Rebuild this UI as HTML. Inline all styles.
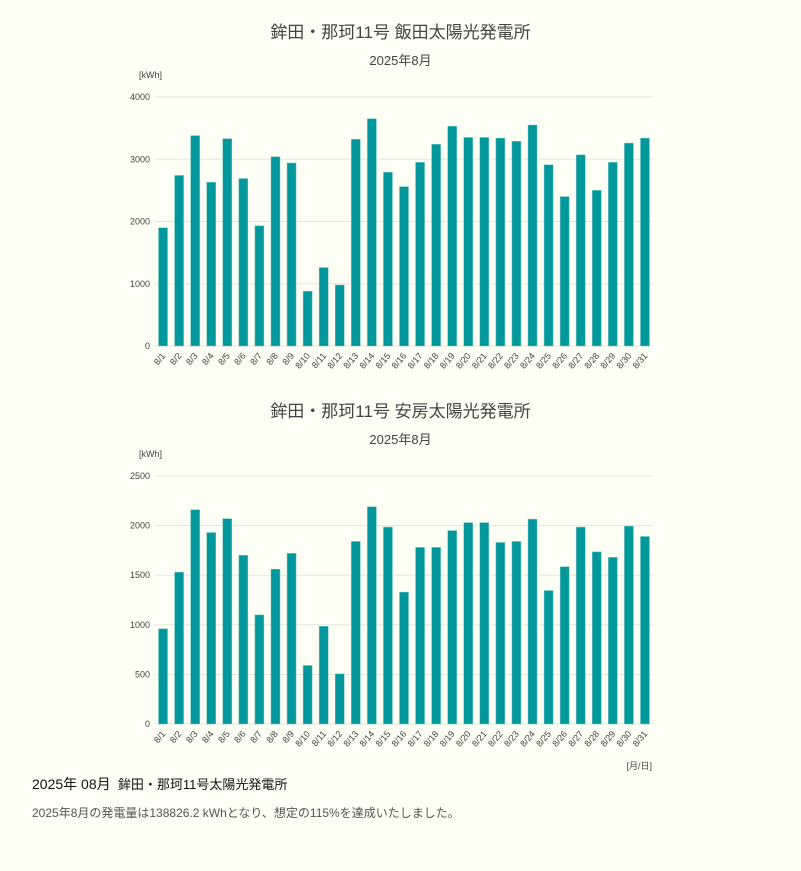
<!DOCTYPE html>
<html><head><meta charset="utf-8">
<style>
body{margin:0;background:#fdfef4;width:801px;height:871px;overflow:hidden;font-family:"Liberation Sans","Noto Sans CJK JP",sans-serif;color:#444}
.t{position:absolute;left:0;width:801px;text-align:center}
</style></head><body>
<div class="t" style="top:18px;font-size:17px;color:#444">鉾田・那珂11号 飯田太陽光発電所</div>
<div class="t" style="top:50px;font-size:13px;color:#444">2025年8月</div>
<div class="t" style="top:397px;font-size:17px;color:#444">鉾田・那珂11号 安房太陽光発電所</div>
<div class="t" style="top:429px;font-size:13px;color:#444">2025年8月</div>
<svg id="c1" style="position:absolute;left:0;top:0" width="801" height="400"></svg>
<svg id="c2" style="position:absolute;left:0;top:0" width="801" height="780"></svg>
<div style="position:absolute;left:32px;top:774px;font-size:13px;color:#111"><span style="font-size:14px">2025年 08月</span>&nbsp; 鉾田・那珂11号太陽光発電所</div>
<div style="position:absolute;left:32px;top:804px;font-size:12px;color:#555">2025年8月の発電量は138826.2 kWhとなり、想定の115%を達成いたしました。</div>
<script>
const days = Array.from({length:31},(_,i)=>'8/'+(i+1));
const values1 = [1900,2740,3380,2630,3330,2690,1930,3040,2940,880,1260,980,3320,3650,2790,2560,2950,3240,3530,3350,3350,3340,3290,3550,2910,2400,3070,2500,2950,3260,3340];
const values2 = [960,1530,2160,1930,2070,1700,1100,1560,1720,590,985,505,1840,2190,1985,1330,1780,1780,1950,2030,2030,1830,1840,2065,1345,1585,1985,1735,1680,1995,1890];
const ticks1 = [0,1000,2000,3000,4000];
const ticks2 = [0,500,1000,1500,2000,2500];
const NS='http://www.w3.org/2000/svg';
function mk(svg,tag,attrs){const e=document.createElementNS(NS,tag);for(const k in attrs)e.setAttribute(k,attrs[k]);svg.appendChild(e);return e;}
function draw(id,vals,ticks,y0,yTop,max,pre,xlabel){
  const svg=document.getElementById(id);
  const x0=155,x1=653,step=(x1-x0)/31;
  const y=v=>y0-(v/max)*(y0-yTop);
  const xc=i=>x0+step*(i+0.5);
  const u=mk(svg,'text',{x:139,y:yTop-19,'font-size':9,fill:'#444'});u.textContent='[kWh]';
  
  
  ticks.forEach(t=>{
    const l=mk(svg,'line',{x1:x0,x2:x1,y1:y(t),y2:y(t),stroke:'#e6e6df','stroke-width':1});
    
    
    const tx=mk(svg,'text',{x:150,y:y(t)+3,'font-size':9,fill:'#444','text-anchor':'end'});tx.textContent=t;
    
    
  });
  vals.forEach((v,i)=>{
    const r=mk(svg,'rect',{x:xc(i)-4.5,y:y(v),width:9,height:y0-y(v),fill:'#02979a',stroke:'#6fc9c6','stroke-width':0.5});
    
    
    const tx=mk(svg,'text',{x:0,y:0,'font-size':9,fill:'#444','text-anchor':'end',transform:`translate(${xc(i)+3},${y0+10}) rotate(-50)`});tx.textContent=days[i];
    
    
  });
  if(xlabel){const t=mk(svg,'text',{x:652,y:y0+45,'font-size':9,fill:'#444','text-anchor':'end'});t.textContent='[月/日]';
    
    }
}
draw('c1',values1,ticks1,346,97,4000,'chart1',false);
draw('c2',values2,ticks2,724,476,2500,'chart2',true);
</script>
</body></html>
